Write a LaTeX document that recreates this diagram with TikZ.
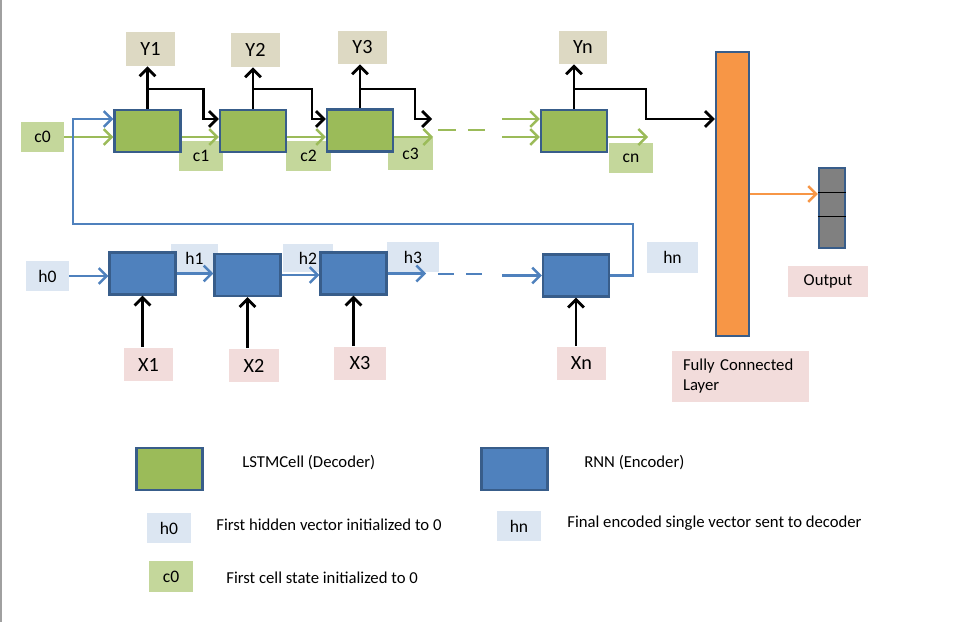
\documentclass[tikz,border=0pt]{standalone}
\usepackage{fontspec}
\setmainfont{Carlito}
\usetikzlibrary{arrows.meta}

\definecolor{declr}{HTML}{9BBB59}
\definecolor{encclr}{HTML}{4F81BD}
\definecolor{bordclr}{HTML}{385D8A}
\definecolor{clabclr}{HTML}{C4D79B}
\definecolor{hlabclr}{HTML}{DCE6F2}
\definecolor{xlabclr}{HTML}{F2DCDB}
\definecolor{ylabclr}{HTML}{DDD9C3}
\definecolor{fcclr}{HTML}{F79646}
\definecolor{outclr}{HTML}{808080}
\definecolor{edgeclr}{HTML}{A0A0A0}

\begin{document}
\begin{tikzpicture}[x=0.02cm, y=-0.02cm,
  every node/.style={inner sep=0pt, font=\fontsize{10}{12}\selectfont},
  cell/.style={rectangle, draw=bordclr, line width=1.3pt, minimum width=1.32cm, minimum height=0.84cm},
  dec/.style={cell, fill=declr},
  enc/.style={cell, fill=encclr},
  lab/.style={rectangle, minimum width=0.88cm, minimum height=0.6cm},
  clab/.style={lab, fill=clabclr},
  hlab/.style={lab, fill=hlabclr},
  io/.style={rectangle, minimum width=1cm, minimum height=0.68cm, font=\fontsize{11.5}{13}\selectfont},
  ylab/.style={io, fill=ylabclr},
  xlab/.style={io, fill=xlabclr},
  txt/.style={anchor=west, font=\fontsize{9.5}{11.4}\selectfont},
  blk/.style={draw=black, line width=1.6pt, -{Straight Barb[length=4.5pt,width=9pt]}},
  garr/.style={draw=declr, line width=1.4pt, -{Straight Barb[length=4.5pt,width=9pt]}},
  barr/.style={draw=encclr, line width=1.4pt, -{Straight Barb[length=4.5pt,width=9pt]}},
  oarr/.style={draw=fcclr, line width=1.4pt, -{Straight Barb[length=4.5pt,width=9pt]}},
  gdash/.style={draw=declr, line width=1.4pt, dash pattern=on 10pt off 7pt},
  bdash/.style={draw=encclr, line width=1.4pt, dash pattern=on 9pt off 7pt}]
\useasboundingbox (0,0) rectangle (958,622);
\fill[edgeclr] (0,0) rectangle (2,622);

\coordinate (ytop) at (0,89);
\coordinate (yin) at (0,119);
\coordinate (ylow) at (0,137);

\node[ylab] (Y1) at (150.5,49){Y1};
\node[ylab] (Y2) at (255.5,50){Y2};
\node[ylab, minimum height=0.66cm] (Y3) at (362.5,47.5){Y3};
\node[ylab, minimum width=0.96cm, minimum height=0.66cm] (Yn) at (583,47.5){Yn};

\node[clab, minimum width=0.86cm] (c0) at (42.5,137){c0};
\node[clab] (c1) at (201,156){c1};
\node[clab, minimum width=0.9cm] (c2) at (308.5,156){c2};
\node[clab, minimum width=0.9cm, minimum height=0.64cm] (c3) at (410.5,154){c3};
\node[clab] (cn) at (631,158){cn};

\node[dec] (dec1) at (147.5,131){};
\node[dec] (dec2) at (253,131){};
\node[dec] (dec3) at (360,130.5){};
\node[dec] (decn) at (574,131){};

\node[hlab, minimum width=0.86cm] (h0) at (47.5,276){h0};
\node[hlab, minimum width=0.94cm, minimum height=0.56cm] (h1) at (194.5,258){h1};
\node[hlab, minimum width=1cm, minimum height=0.56cm] (h2) at (308,258){h2};
\node[hlab, minimum width=1.04cm] (h3) at (413,257){h3};
\node[hlab, minimum width=1.02cm, minimum height=0.62cm] (hn) at (672.5,257.5){hn};

\node[enc] (enc1) at (142.5,273.5){};
\node[enc] (enc2) at (247.5,275){};
\node[enc] (enc3) at (353.5,273.5){};
\node[enc] (encn) at (576,275.5){};

\node[xlab] (X1) at (148.5,364.5){X1};
\node[xlab] (X2) at (254,365.5){X2};
\node[xlab, minimum width=1.04cm] (X3) at (360,363.5){X3};
\node[xlab] (Xn) at (581.5,363.5){Xn};

\node[rectangle, fill=fcclr, draw=bordclr, line width=1.3pt, minimum width=0.66cm, minimum height=5.68cm] (fc) at (732.5,194){};
\node[rectangle, fill=outclr, draw=bordclr, line width=1.3pt, minimum width=0.52cm, minimum height=1.6cm] (out) at (832,208){};
\coordinate (sep1) at (0,192);
\coordinate (sep2) at (0,216);
\draw[black, line width=0.5pt] (out.west |- sep1) -- (out.east |- sep1);
\draw[black, line width=0.5pt] (out.west |- sep2) -- (out.east |- sep2);

\node[xlab, minimum width=1.6cm, minimum height=0.62cm, font=\fontsize{9.5}{11.4}\selectfont] (outlab) at (828,281.5){Output};
\node[xlab, minimum width=2.74cm, minimum height=1.02cm, text width=2.3cm, align=left, font=\fontsize{9.5}{11.4}\selectfont] (fclab) at (740.5,376.5){Fully Connected\\Layer};

\coordinate (y3end) at (432,119);
\coordinate (c3end) at (433,137);
\coordinate (gd1) at (438,130);
\coordinate (gd2) at (492,130);
\coordinate (gin1) at (502,119);
\coordinate (gin2) at (502,137);
\coordinate (cnend) at (648,137);
\coordinate (h3end) at (426,273.5);
\coordinate (bd1) at (438,274);
\coordinate (bd2) at (484,274);
\coordinate (bin) at (502,275.5);
\coordinate (fb1) at (633,224);
\coordinate (fb2) at (73,119);

\draw[blk] (dec1.north) -- (dec1.north |- Y1.south);
\draw[blk] (dec2.north) -- (dec2.north |- Y2.south);
\draw[blk] (dec3.north) -- (dec3.north |- Y3.south);
\draw[blk] (decn.north) -- (decn.north |- Yn.south);
\draw[blk] (dec1.north |- ytop) -- ++(56,0) |- (dec2.west |- yin);
\draw[blk] (dec2.north |- ytop) -- ++(59,0) |- (dec3.west |- yin);
\draw[blk] (dec3.north |- ytop) -- ++(55,0) |- (y3end);
\draw[blk] (decn.north |- ytop) -- ++(72,0) |- (fc.west |- yin);

\draw[garr] (c0.east) -- (dec1.west |- c0.east);
\draw[garr] (dec1.east |- ylow) -- (dec2.west |- ylow);
\draw[garr] (dec2.east |- ylow) -- (dec3.west |- ylow);
\draw[garr] (dec3.east |- ylow) -- (c3end);
\draw[gdash] (gd1) -- (gd2);
\draw[garr] (gin1) -- (decn.west |- yin);
\draw[garr] (gin2) -- (decn.west |- ylow);
\draw[garr] (decn.east |- ylow) -- (cnend);

\draw[barr] (h0.east) -- (enc1.west |- h0.east);
\draw[barr] (enc1.east) -- (enc2.west |- enc1.east);
\draw[barr] (enc2.east) -- (enc3.west |- enc2.east);
\draw[barr] (enc3.east) -- (h3end);
\draw[bdash] (bd1) -- (bd2);
\draw[barr] (bin) -- (encn.west);
\draw[barr] (encn.east) -| (fb1) -| (fb2) -- (dec1.west |- yin);

\draw[blk] (enc1.south |- X1.north) -- (enc1.south);
\draw[blk] (enc2.south |- X2.north) -- (enc2.south);
\draw[blk] (enc3.south |- X3.north) -- (enc3.south);
\draw[blk] (encn.south |- Xn.north) -- (encn.south);

\draw[oarr] (fc.east) -- (out.west |- fc.east);

\node[dec] (lgdec) at (169.5,469){};
\node[txt] (lgdectxt) at (242,463){LSTMCell (Decoder)};
\node[enc] (lgenc) at (514.5,469){};
\node[txt] (lgenctxt) at (584,463){RNN (Encoder)};
\node[hlab] (lgh0) at (169,528){h0};
\node[txt] (lgh0txt) at (216,525){First hidden vector initialized to 0};
\node[hlab] (lghn) at (519,526){hn};
\node[txt] (lghntxt) at (567,523){Final encoded single vector sent to decoder};
\node[clab, minimum height=0.62cm] (lgc0) at (171,576.5){c0};
\node[txt] (lgc0txt) at (226,578){First cell state initialized to 0};
\end{tikzpicture}
\end{document}
